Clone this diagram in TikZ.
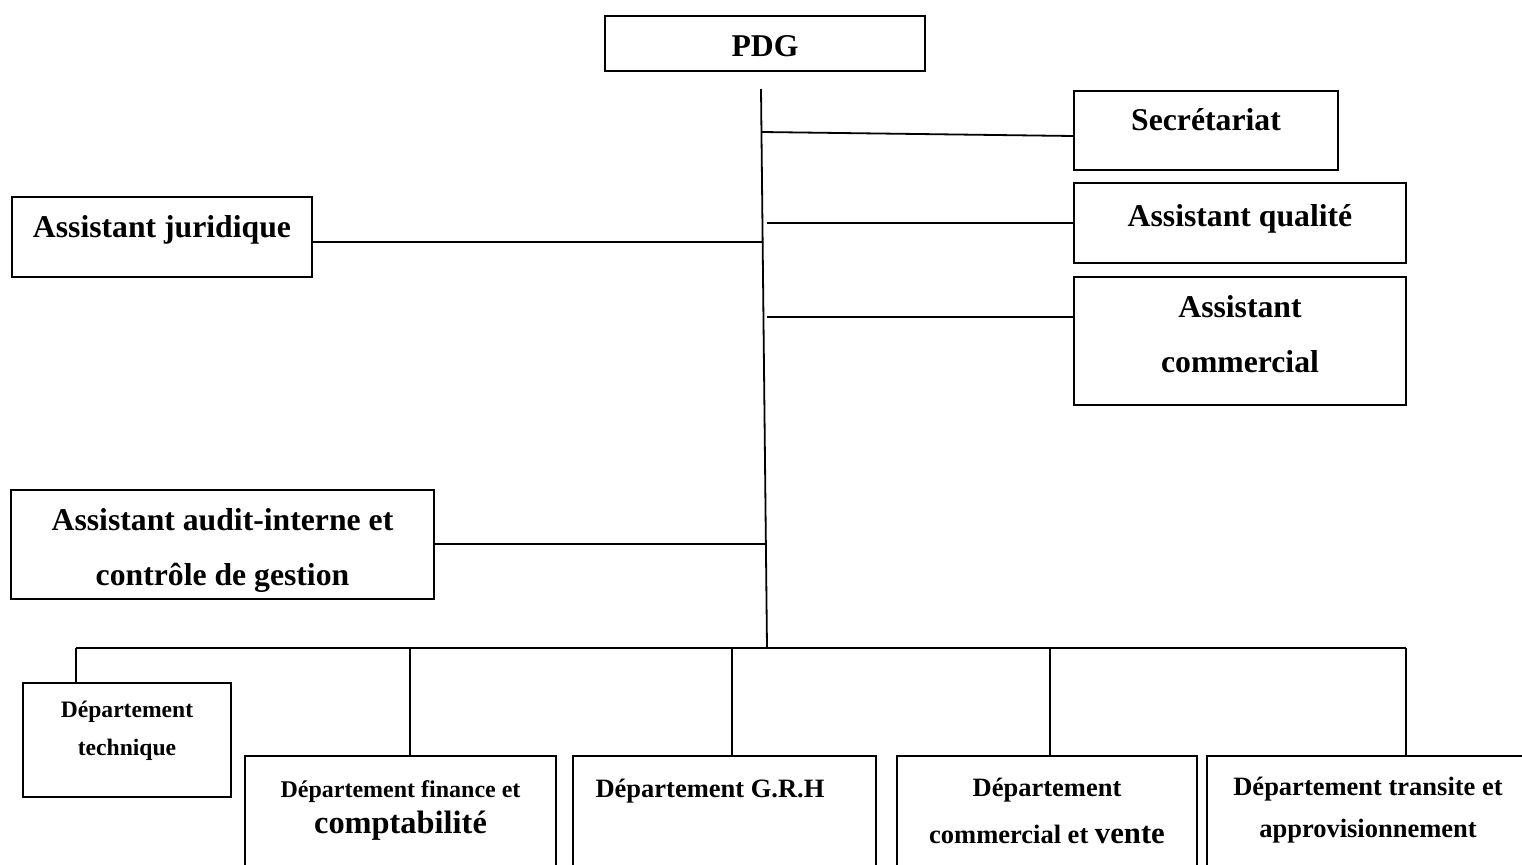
\documentclass[tikz,border=0pt]{standalone}
\usepackage{fontspec}
\setmainfont{Liberation Serif}
\begin{document}
\begin{tikzpicture}[x=1pt,y=-1pt,
    box/.style={draw, line width=1.8pt, inner sep=0pt},
    link/.style={line width=1.8pt},
    big/.style={font=\bfseries\fontsize{31.7}{55}\selectfont, align=center, anchor=base, inner sep=0pt},
    small/.style={font=\bfseries\fontsize{26.5}{42}\selectfont, align=center, anchor=base, inner sep=0pt}]
    \useasboundingbox (0,0) rectangle (1522,864);
    \clip (0,0) rectangle (1522,864);

    % Boxes
    \node[box, minimum width=320, minimum height=55] (pdg) at (765,43.5) {};
    \node[box, minimum width=264, minimum height=79] (sec) at (1206,130.5) {};
    \node[box, minimum width=332, minimum height=80] (qual) at (1240,223) {};
    \node[box, minimum width=332, minimum height=128] (comm) at (1240,341) {};
    \node[box, minimum width=300, minimum height=80] (jur) at (162,237) {};
    \node[box, minimum width=423, minimum height=109] (audit) at (222.5,544.5) {};
    \node[box, minimum width=208, minimum height=114] (tech) at (127,740) {};
    \node[box, minimum width=311, minimum height=144] (fin) at (400.5,828) {};
    \node[box, minimum width=303, minimum height=144] (grh) at (724.5,828) {};
    \node[box, minimum width=300, minimum height=144] (comc) at (1047,828) {};
    \node[box, minimum width=322, minimum height=144] (trans) at (1368,828) {};

    % Labels (base = last line)
    \node[big] (pdg-t) at (765,57) {PDG};
    \node[big] (sec-t) at (1206,131) {Secrétariat};
    \node[big] (qual-t) at (1240,226) {Assistant qualité};
    \node[big] (comm-t) at (1240,372) {Assistant\\commercial};
    \node[big] (jur-t) at (162,237) {Assistant juridique};
    \node[big] (audit-t) at (222.5,585) {Assistant audit-interne et\\contrôle de gestion};
    \node[small, font=\bfseries\fontsize{23.6}{38}\selectfont] (tech-t) at (127,755) {Département\\technique};
    \node[small, font=\bfseries\fontsize{24}{36}\selectfont] (fin-t) at (400.5,833)
        {Département finance et\\{\fontsize{32.4}{36}\selectfont comptabilité}};
    \node[small] (grh-t) at (710,797) {Département G.R.H};
    \node[small, font=\bfseries\fontsize{26.5}{47}\selectfont] (comc-t) at (1047,843)
        {Département\\commercial et {\fontsize{30.7}{47}\selectfont vente}};
    \node[small] (trans-t) at (1368,837) {Département transite et\\approvisionnement};

    % Trunk and branches
    \coordinate (top) at (761,89);
    \coordinate (bot) at (767,648);
    \draw[link] (top) -- (bot);
    \coordinate (s0) at (761.5,132);
    \coordinate (q0) at (767,223);
    \coordinate (c0) at (767,317);
    \coordinate (j0) at (762.6,242);
    \coordinate (a0) at (765.9,544);
    \draw[link] (s0) -- ([yshift=-5.5pt]sec.west);
    \draw[link] (q0) -- (qual.west);
    \draw[link] (c0) -- (c0 -| comm.west);
    \draw[link] (j0) -- (j0 -| jur.east);
    \draw[link] (a0) -- (a0 -| audit.east);

    % Departments
    \coordinate (d1) at (76,648);
    \coordinate (d2) at (410,648);
    \coordinate (d3) at (732,648);
    \coordinate (d4) at (1050,648);
    \coordinate (d5) at (1406,648);
    \draw[link] (d1) -- (d5);
    \draw[link] (d1) -- (d1 |- tech.north);
    \draw[link] (d2) -- (d2 |- fin.north);
    \draw[link] (d3) -- (d3 |- grh.north);
    \draw[link] (d4) -- (d4 |- comc.north);
    \draw[link] (d5) -- (d5 |- trans.north);
\end{tikzpicture}
\end{document}
